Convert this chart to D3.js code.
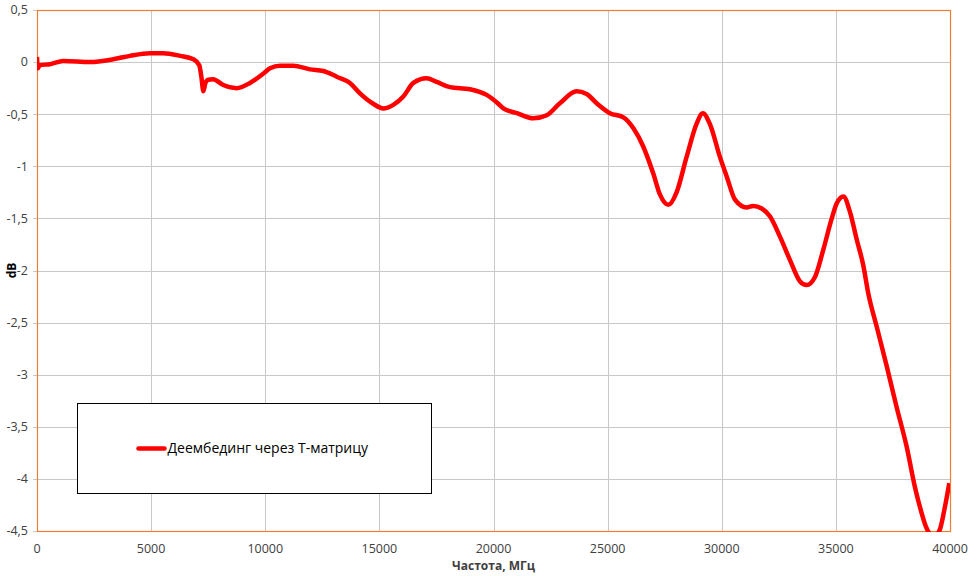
<!DOCTYPE html>
<html>
<head>
  <meta charset="utf-8" />
  <title>Деембединг через Т-матрицу</title>
  <style>
    body {
      margin: 0;
      background-color: #ffffff;
    }
    text {
      font-family: 'Open Sans', 'Noto Sans', Arial, sans-serif;
      fill: #404040;
    }
  </style>
  <script type="text/javascript" src="https://cdnjs.cloudflare.com/ajax/libs/d3/7.8.5/d3.min.js"></script>
</head>
<body>
  <div id="chart"></div>
  <script type="text/javascript">
    // frequency, MHz
    var freq = [0, 40, 120, 570, 1150, 2320, 3340, 4070, 4950, 5530, 6270, 6850, 7110, 7200, 7290, 7380,
      7500, 7720, 8160, 8750, 9330, 9920, 10210, 10650, 11230, 11960, 12540, 13130, 13710, 14150,
      14730, 15170, 15610, 16050, 16490, 17070, 17510, 18090, 18970, 19700, 20210, 20430, 21020,
      21740, 22330, 22910, 23640, 24080, 24520, 25100, 25690, 26130, 26560, 27000, 27300, 27660,
      28030, 28460, 28900, 29170, 29490, 29920, 30220, 30580, 31090, 31380, 31750, 32110, 32550,
      32990, 33430, 33720, 34090, 34450, 34820, 35040, 35330, 35620, 35910, 36200, 36420, 36790,
      37230, 37660, 38100, 38460, 38760, 38950, 39150, 39350, 39550, 39750, 39970];
    // S21 after de-embedding, dB
    var s21 = [0.05, -0.06, -0.03, -0.02, 0.01, 0.0, 0.027, 0.06, 0.085, 0.085, 0.06, 0.027, -0.03, -0.14,
      -0.28, -0.2, -0.17, -0.165, -0.22, -0.25, -0.2, -0.11, -0.06, -0.035, -0.035, -0.07, -0.085,
      -0.14, -0.2, -0.3, -0.4, -0.445, -0.41, -0.33, -0.2, -0.155, -0.19, -0.24, -0.26, -0.315, -0.4,
      -0.445, -0.49, -0.54, -0.51, -0.395, -0.28, -0.305, -0.395, -0.49, -0.53, -0.635, -0.81, -1.07,
      -1.275, -1.37, -1.245, -0.91, -0.59, -0.49, -0.6, -0.91, -1.1, -1.32, -1.395, -1.38, -1.405,
      -1.48, -1.675, -1.9, -2.105, -2.14, -2.06, -1.8, -1.5, -1.355, -1.29, -1.44, -1.7, -1.95, -2.22,
      -2.54, -2.92, -3.31, -3.69, -4.075, -4.33, -4.46, -4.53, -4.54, -4.49, -4.3, -4.04];
    var xTicks = [0, 5000, 10000, 15000, 20000, 25000, 30000, 35000, 40000];
    var yTicks = [0.5, 0, -0.5, -1, -1.5, -2, -2.5, -3, -3.5, -4, -4.5];
    var seriesName = "Деембединг через Т-матрицу";
    var xTitle = "Частота, МГц";
    var yTitle = "dB";

    var w = 978, h = 576;
    var margin = { top: 10, right: 28, bottom: 45, left: 37 };
    var width = w - margin.left - margin.right,
      height = h - margin.top - margin.bottom;

    var x = d3.scaleLinear().domain([0, 40000]).range([0, width]);
    var y = d3.scaleLinear().domain([-4.5, 0.5]).range([height, 0]);

    var svg = d3.select("#chart").append("svg")
      .attr("width", w)
      .attr("height", h);

    var g = svg.append("g")
      .attr("transform", "translate(" + margin.left + "," + margin.top + ")");

    // grid
    g.append("g").selectAll("line").data(yTicks).enter().append("line")
      .attr("x1", -4).attr("x2", width)
      .attr("y1", function (d) { return Math.round(y(d)) + 0.5; })
      .attr("y2", function (d) { return Math.round(y(d)) + 0.5; })
      .attr("stroke", "#c8c8c8");
    g.append("g").selectAll("line").data(xTicks).enter().append("line")
      .attr("y1", 0).attr("y2", height)
      .attr("x1", function (d) { return Math.round(x(d)) + 0.5; })
      .attr("x2", function (d) { return Math.round(x(d)) + 0.5; })
      .attr("stroke", "#c8c8c8");

    // plot area frame
    g.append("rect")
      .attr("x", 0.5).attr("y", 0.5)
      .attr("width", width).attr("height", height)
      .attr("fill", "none")
      .attr("stroke", "#ED7D31")
      .attr("stroke-width", 1.2);

    // tick labels
    g.append("g").selectAll("text").data(yTicks).enter().append("text")
      .attr("x", -9)
      .attr("y", function (d) { return y(d); })
      .attr("dy", "0.35em")
      .attr("text-anchor", "end")
      .style("font-size", "12.5px")
      .text(function (d) { return String(d).replace(".", ","); });

    g.append("g").selectAll("text").data(xTicks).enter().append("text")
      .attr("x", function (d) { return x(d); })
      .attr("y", height + 18)
      .attr("dy", "0.35em")
      .attr("text-anchor", "middle")
      .style("font-size", "12.5px")
      .text(function (d) { return d; });

    // axis titles
    g.append("text")
      .attr("x", width / 2)
      .attr("y", height + 35)
      .attr("dy", "0.35em")
      .attr("text-anchor", "middle")
      .style("font-size", "12px")
      .style("font-weight", "bold")
      .text(xTitle);

    svg.append("text")
      .attr("transform", "translate(12," + (margin.top + y(-2)) + ") rotate(-90)")
      .attr("dy", "0.35em")
      .attr("text-anchor", "middle")
      .style("font-size", "12px")
      .style("font-weight", "bold")
      .style("fill", "#000")
      .text(yTitle);

    // series
    var data = freq.map(function (f, i) { return { f: f, v: s21[i] }; });

    g.append("clipPath").attr("id", "clip")
      .append("rect").attr("width", width).attr("height", height + 1);

    g.append("path")
      .datum(data)
      .attr("clip-path", "url(#clip)")
      .attr("fill", "none")
      .attr("stroke", "#ff0000")
      .attr("stroke-width", 4.5)
      .attr("stroke-linejoin", "round")
      .attr("d", d3.line()
        .curve(d3.curveMonotoneX)
        .x(function (d) { return x(d.f); })
        .y(function (d) { return y(d.v); }));

    // legend
    var lg = svg.append("g").attr("transform", "translate(77.5,403.5)");
    lg.append("rect")
      .attr("width", 354).attr("height", 90)
      .attr("fill", "#fff")
      .attr("stroke", "#000");
    lg.append("line")
      .attr("x1", 61).attr("x2", 87)
      .attr("y1", 45).attr("y2", 45)
      .attr("stroke", "#ff0000")
      .attr("stroke-width", 4.5)
      .attr("stroke-linecap", "round");
    lg.append("text")
      .attr("x", 90).attr("y", 45)
      .attr("dy", "0.35em")
      .style("font-size", "14px")
      .style("fill", "#000")
      .text(seriesName);
  </script>
</body>
</html>
